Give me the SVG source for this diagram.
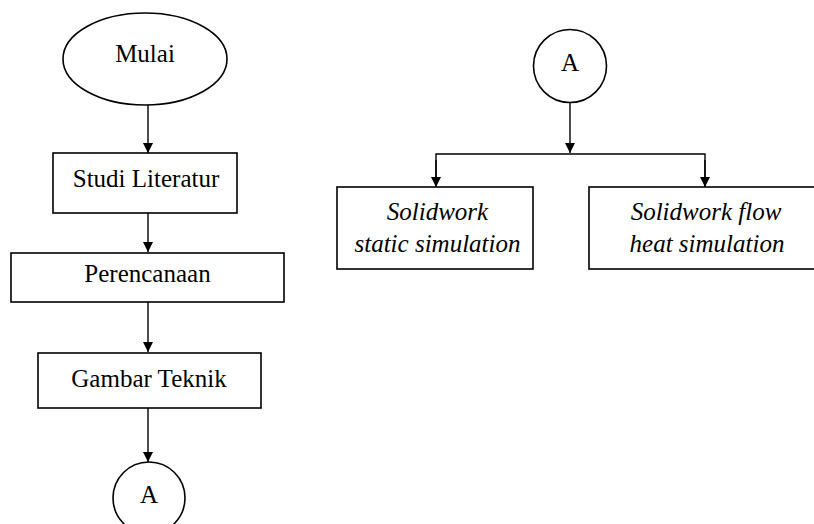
<svg xmlns="http://www.w3.org/2000/svg" width="814" height="524" viewBox="0 0 814 524">
<defs>
<marker id="arr" markerWidth="10" markerHeight="10" refX="10" refY="5" orient="auto" markerUnits="userSpaceOnUse">
<path d="M0,0 L10,5 L0,10 Z" fill="#000"/>
</marker>
<style>
.s{fill:#fff;stroke:#000;stroke-width:1.6}
.t{font-family:"Liberation Serif","Times New Roman",serif;font-size:25px;fill:#000;text-anchor:middle}
.i{font-style:italic}
.c{fill:none;stroke:#000;stroke-width:1.4}
</style>
</defs>
<rect width="814" height="524" fill="#fff"/>
<g id="connectors">
<line class="c" x1="148" y1="105" x2="148" y2="153" marker-end="url(#arr)"/>
<line class="c" x1="148" y1="213" x2="148" y2="252" marker-end="url(#arr)"/>
<line class="c" x1="148" y1="302" x2="148" y2="352" marker-end="url(#arr)"/>
<line class="c" x1="148" y1="408" x2="148" y2="462" marker-end="url(#arr)"/>
<line class="c" x1="570" y1="102" x2="570" y2="153" marker-end="url(#arr)"/>
<polyline class="c" points="436,187 436,154 705,154 705,187"/>
<line class="c" x1="436" y1="160" x2="436" y2="187" marker-end="url(#arr)"/>
<line class="c" x1="705" y1="160" x2="705" y2="187" marker-end="url(#arr)"/>
</g>
<g id="mulai">
<ellipse class="s" cx="145" cy="59" rx="82" ry="46"/>
<text class="t" x="145" y="62">Mulai</text>
</g>
<g id="studi">
<rect class="s" x="53" y="153" width="184" height="60"/>
<text class="t" x="146" y="187">Studi Literatur</text>
</g>
<g id="perencanaan">
<rect class="s" x="11" y="253" width="273" height="49"/>
<text class="t" x="147.5" y="282">Perencanaan</text>
</g>
<g id="gambar">
<rect class="s" x="38" y="353" width="223" height="55"/>
<text class="t" x="149" y="387">Gambar Teknik</text>
</g>
<g id="a1">
<circle class="s" cx="149" cy="498" r="36"/>
<text class="t" x="149" y="503">A</text>
</g>
<g id="a2">
<circle class="s" cx="570" cy="66" r="36.5"/>
<text class="t" x="570" y="71">A</text>
</g>
<g id="static">
<rect class="s" x="337" y="187" width="196" height="82"/>
<text class="t i" x="437.5" y="220">Solidwork</text>
<text class="t i" x="437.5" y="252">static simulation</text>
</g>
<g id="flow">
<rect class="s" x="589" y="187" width="240" height="82"/>
<text class="t i" x="706" y="220">Solidwork flow</text>
<text class="t i" x="707" y="252">heat simulation</text>
</g>
</svg>
